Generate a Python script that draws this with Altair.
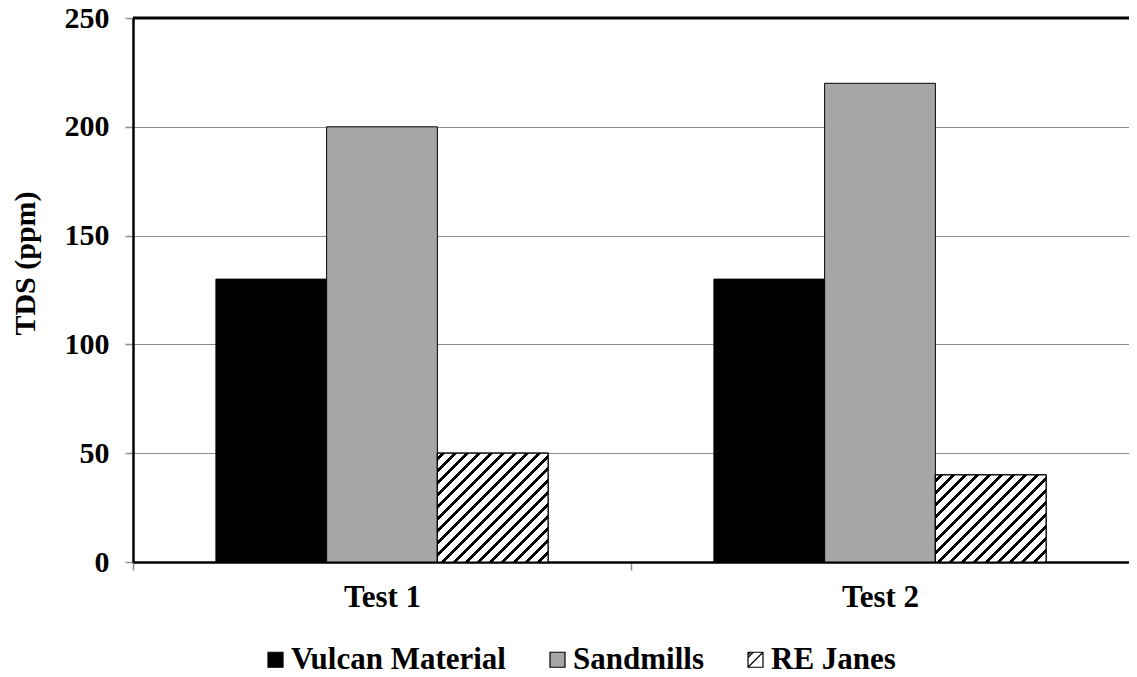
import altair as alt
import pandas as pd

# ---- data ----
tests = ["Test 1", "Test 2"]
series = ["Vulcan Material", "Sandmills", "RE Janes"]
vulcan = [130, 130]
sandmills = [200, 220]
re_janes = [50, 40]
y_ticks = [0, 50, 100, 150, 200, 250]
y_max = [250]
colors = ["#000000", "#a6a6a6", "#ffffff"]

# ---- layout / style ----
FONT = "Liberation Serif"
W, H = 996, 544
PAD_IN = 0.333
GRID = "#8c8c8c"
STEP = W / 2.0

rows = []
for i, t in enumerate(tests):
    for s, vals in zip(series, [vulcan, sandmills, re_janes]):
        rows.append({"Test": t, "Series": s, "Value": vals[i]})
df = pd.DataFrame(rows)
top_df = pd.DataFrame({"Value": y_max})

SQUARE = "M-1,-1H1V1H-1Z"
HATCH_SQ = "M-1,-1H1V1H-1Z M-1,1L1,-1 M-1,-0.3L-0.3,-1 M-1,-0.65L-0.65,-1"

x_enc = alt.X(
    "Test:N", sort=tests,
    scale=alt.Scale(domain=tests, paddingInner=PAD_IN, paddingOuter=PAD_IN / 2),
    axis=alt.Axis(
        title=None, labelAngle=0, labelFont=FONT, labelFontSize=31, labelFontWeight="bold",
        labelColor="black", labelPadding=12, tickOffset=-STEP / 2, labelOffset=STEP / 2,
        tickColor=GRID, tickSize=8, tickWidth=1.5,
        domainColor="black", domainWidth=2.5, grid=False,
    ),
)
xo_enc = alt.XOffset("Series:N", sort=series,
                     scale=alt.Scale(domain=series, paddingInner=0, paddingOuter=0))
y_enc = alt.Y(
    "Value:Q",
    scale=alt.Scale(domain=[0, y_max[0]], nice=False),
    axis=alt.Axis(
        values=y_ticks, title="TDS (ppm)", titleFont=FONT, titleFontSize=30,
        titleFontWeight="bold", titleColor="black", titleX=-123, titleY=245,
        titleAlign="center", titleBaseline="top", titleAngle=270,
        labelFont=FONT, labelFontSize=30, labelFontWeight="bold", labelColor="black",
        labelPadding=16, tickColor=GRID, tickSize=8, tickWidth=1.5,
        domainColor="black", domainWidth=2.5, grid=True, gridColor=GRID, gridWidth=1.2,
    ),
)

legend = alt.Legend(
    title=None, orient="none", legendX=127, legendY=626, direction="horizontal",
    labelFont=FONT, labelFontSize=31, labelFontWeight="bold", labelColor="black",
    labelLimit=500, symbolSize=225, symbolStrokeWidth=1.2, symbolOpacity=1,
    labelOffset=0, columnPadding=36, padding=0,
)

fill_enc = alt.Fill("Series:N", sort=series,
                    scale=alt.Scale(domain=series, range=colors), legend=legend)
stroke_enc = alt.Stroke("Series:N", sort=series,
                        scale=alt.Scale(domain=series, range=["black", "black", "black"]),
                        legend=legend)
shape_enc = alt.Shape("Series:N", sort=series,
                      scale=alt.Scale(domain=series, range=[SQUARE, SQUARE, HATCH_SQ]),
                      legend=legend)

bars = alt.Chart(df).mark_bar(strokeWidth=1).encode(
    x=x_enc, xOffset=xo_enc, y=y_enc, fill=fill_enc, stroke=stroke_enc
)

legend_pts = alt.Chart(df).mark_point(filled=True, opacity=0).encode(
    x=x_enc, xOffset=xo_enc, y=y_enc, fill=fill_enc, stroke=stroke_enc, shape=shape_enc,
)

# hatched overlay for the RE Janes bars (45 degree stripes)
bw = STEP * (1 - PAD_IN) / 3.0
PERIOD = 12.0
FRAC = 0.36
hatch_layers = []
for i, t in enumerate(tests):
    h = re_janes[i] / y_max[0] * H
    k = h / bw
    a = 2.0
    L = a * bw * (1 + k * k)
    stops = [{"offset": 0, "color": "white"}]
    j = 0
    while True:
        b0 = (j * PERIOD + 4) / L
        b1 = b0 + FRAC * PERIOD / L
        if b0 >= 1:
            break
        b1 = min(b1, 1)
        stops += [{"offset": b0, "color": "white"}, {"offset": b0, "color": "black"},
                  {"offset": b1, "color": "black"}, {"offset": b1, "color": "white"}]
        j += 1
    stops.append({"offset": 1, "color": "white"})
    grad = {"gradient": "linear", "x1": 0, "y1": 0, "x2": a, "y2": a * k, "stops": stops}
    sub = df[(df.Series == "RE Janes") & (df.Test == t)]
    hatch_layers.append(
        alt.Chart(sub).mark_bar(fill=grad, stroke="black", strokeWidth=1.2).encode(
            x=x_enc, xOffset=xo_enc, y=y_enc
        )
    )

top_rule = alt.Chart(top_df).mark_rule(color="black", strokeWidth=3).encode(y=y_enc)

chart = alt.layer(bars, legend_pts, *hatch_layers, top_rule).properties(
    width=W, height=H,
    autosize=alt.AutoSizeParams(type="none"),
    padding={"left": 125, "top": 10, "right": 0, "bottom": 107},
).configure_view(stroke=None).configure(background="white")

chart.save("out.html", embed_options={"renderer": "svg", "actions": False})
